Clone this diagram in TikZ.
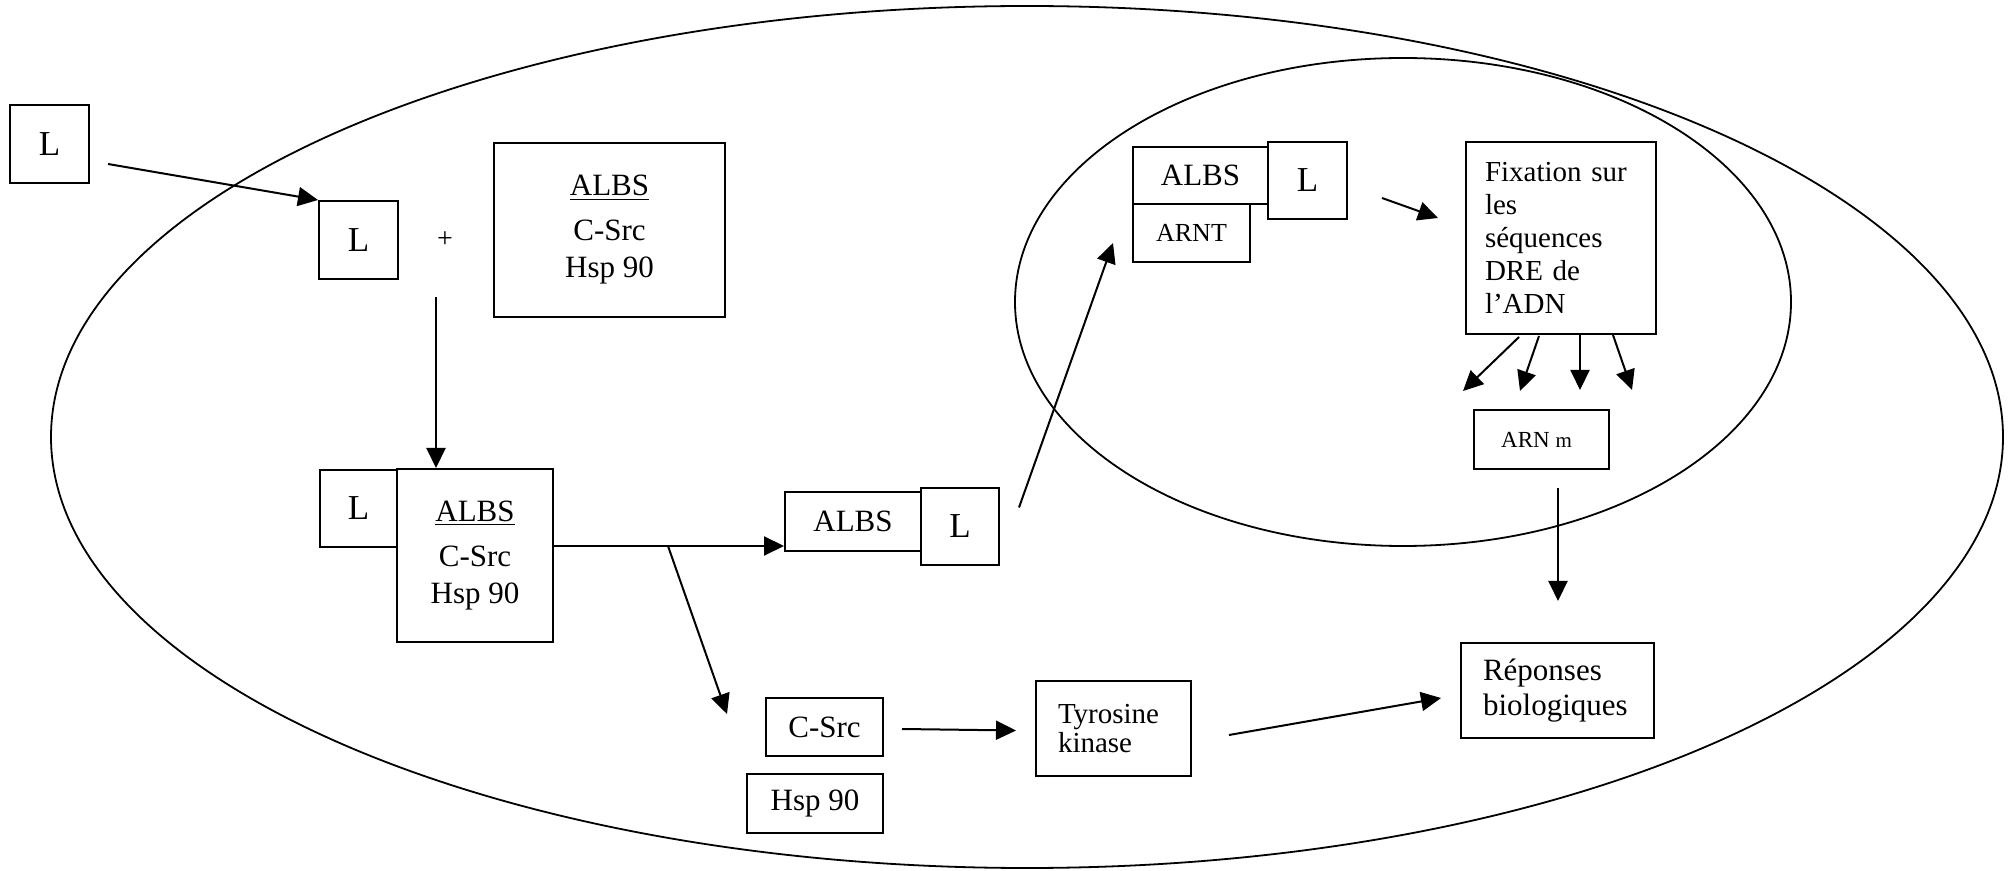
\documentclass[tikz,border=0pt]{standalone}
\usepackage{fontspec}
\setmainfont{Liberation Serif}
\usetikzlibrary{arrows.meta}
\begin{document}
\begin{tikzpicture}[x=0.5pt,y=-0.5pt,
  box/.style={draw,line width=1pt,rectangle,inner sep=0pt,align=center,font=\fontsize{15.5}{18.5}\selectfont},
  lbox/.style={box,font=\fontsize{17.5}{20}\selectfont},
  leftbox/.style={draw,line width=1pt,rectangle,inner sep=0pt,align=left},
  arr/.style={line width=1pt,-{Triangle[length=10pt,width=9.5pt]}},
  cell/.style={line width=0.9pt}]
\useasboundingbox (0,0) rectangle (2009,871);
% membranes
\draw[cell] (1027,437) ellipse [x radius=488pt, y radius=215.5pt];
\draw[cell] (1403,302) ellipse [x radius=194pt, y radius=122pt];
% nodes
\node[lbox,minimum width=39.5pt,minimum height=39pt] (L1) at (49.5,144) {L};
\node[lbox,minimum width=39.5pt,minimum height=39pt] (L2) at (358.5,240) {L};
\node[font=\fontsize{14}{16}\selectfont,inner sep=0pt] (plus) at (445,240) {+};
\node[box,minimum width=115.5pt,minimum height=87pt] (A1) at (609.5,230) {\underline{ALBS}\\[4pt]C-Src\\Hsp 90};
\node[lbox,minimum width=38.5pt,minimum height=38.5pt] (L3) at (358.5,508.5) {L};
\node[box,minimum width=78pt,minimum height=86.5pt] (A2) at (475,555.5) {\underline{ALBS}\\[4pt]C-Src\\Hsp 90};
\node[box,minimum width=68pt,minimum height=29.5pt] (A3) at (853,521.5) {ALBS};
\node[lbox,minimum width=39pt,minimum height=38.5pt] (L4) at (960,526.5) {L};
\node[box,minimum width=58.5pt,minimum height=29pt] (CSrc) at (824.5,727) {C-Src};
\node[box,minimum width=68pt,minimum height=29.5pt] (Hsp) at (815,803.5) {Hsp 90};
\node[leftbox,minimum width=77.5pt,minimum height=47.5pt,text width=55.5pt,font=\fontsize{14.5}{14.5}\selectfont] (Tyr) at (1113.5,728.5) {Tyrosine\\kinase};
\node[leftbox,minimum width=96.5pt,minimum height=47.5pt,text width=74.5pt,font=\fontsize{15.5}{17.5}\selectfont] (Rep) at (1557.5,690.5) {Réponses\\biologiques};
\node[box,minimum width=67.5pt,minimum height=29.5pt,font=\fontsize{11.5}{14}\selectfont] (ARNm) at (1541.5,439.5) {ARN {\fontsize{10.5}{12}\selectfont m}\hspace*{5pt}};
\node[leftbox,minimum width=95pt,minimum height=96pt,text width=76pt,font=\fontsize{14.5}{16.5}\selectfont] (Fix) at (1561,238) {Fixation sur\\les\\séquences\\DRE de\\l’ADN};
\node[box,minimum width=67.5pt,minimum height=28.5pt] (A4) at (1200.5,175.5) {ALBS};
\node[lbox,minimum width=39.5pt,minimum height=38.5pt] (L5) at (1307.5,180.5) {L};
\node[box,minimum width=58.5pt,minimum height=29pt,font=\fontsize{13}{15}\selectfont] (ARNT) at (1191.5,233) {ARNT};
% connectors
\draw[arr] ([shift={(18,-20)}]L1.south east) -- (L2.north west);
\coordinate (v0) at (436,297);
\draw[arr] (v0) -- (v0 |- A2.north);
\coordinate (hy) at (0,546);
\draw[arr] (A2.east |- hy) -- (A3.west |- hy);
\coordinate (br) at (668,546);
\draw[arr] (br) -- ([shift={(-38,-13)}]CSrc.west);
\draw[arr] ([shift={(19,-19)}]L4.east) -- ([shift={(-19,-20)}]ARNT.south west);
\draw[arr] ([shift={(34,17.5)}]L5.east) -- ([shift={(-27,-20)}]Fix.west);
\draw[arr] ([shift={(-42,2)}]Fix.south) -- ([shift={(-98,56)}]Fix.south);
\draw[arr] ([shift={(-22,1)}]Fix.south) -- ([shift={(-41,56)}]Fix.south);
\draw[arr] ([shift={(19,0)}]Fix.south) -- ([shift={(19,55)}]Fix.south);
\draw[arr] ([shift={(52,0)}]Fix.south) -- ([shift={(71,55)}]Fix.south);
\draw[arr] ([shift={(16.5,18)}]ARNm.south) -- ([shift={(0.5,-41)}]Rep.north);
\draw[arr] ([shift={(18,2)}]CSrc.east) -- ([shift={(-19,2)}]Tyr.west);
\draw[arr] ([shift={(37,6.5)}]Tyr.east) -- ([shift={(-19,7.5)}]Rep.west);
\end{tikzpicture}
\end{document}
